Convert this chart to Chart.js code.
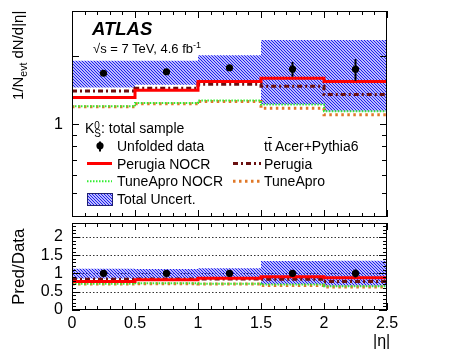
<!DOCTYPE html>
<html><head><meta charset="utf-8">
<script src="https://cdn.jsdelivr.net/npm/chart.js@4/dist/chart.umd.min.js"></script>
<style>
html,body{margin:0;padding:0;background:#fff;overflow:hidden}
#wrap{position:relative;width:456px;height:354px;background:#fff}
canvas{position:absolute;left:0;top:0}
.t{position:absolute;font-family:'Liberation Sans',Arial,sans-serif;color:#000;white-space:nowrap;line-height:1}
.rot{transform-origin:left top;transform:rotate(-90deg)}
</style></head><body>
<div id="wrap">
<canvas id="c1" width="456" height="354"></canvas>
<canvas id="c2" width="456" height="354"></canvas>
<div class="t" style="left:92px;top:20px;font-size:18.5px;font-weight:bold;font-style:italic">ATLAS</div>
<div class="t" style="left:93px;top:40.5px;font-size:13px">√s = 7 TeV, 4.6 fb<sup style="font-size:9px;vertical-align:5px">-1</sup></div>
<div class="t" style="left:85px;top:121px;font-size:14px">K<span style="display:inline-block;vertical-align:-4px;font-size:10px;line-height:8px;text-align:left">0<br>S</span>: total sample</div>
<div class="t" style="left:117px;top:138.8px;font-size:14px">Unfolded data</div>
<div class="t" style="left:264px;top:138.8px;font-size:14px">t<span style="text-decoration:overline">t</span> Acer+Pythia6</div>
<div class="t" style="left:117px;top:156.8px;font-size:14px">Perugia NOCR</div>
<div class="t" style="left:264px;top:156.8px;font-size:14px">Perugia</div>
<div class="t" style="left:117px;top:174.4px;font-size:14px">TuneApro NOCR</div>
<div class="t" style="left:264px;top:174.4px;font-size:14px">TuneApro</div>
<div class="t" style="left:117px;top:191.8px;font-size:14px">Total Uncert.</div>
<div class="t" style="left:373px;top:333px;font-size:16px">|η|</div>
<div class="t rot" style="left:10px;top:100px;font-size:15px">1/N<sub style="font-size:10.5px">evt</sub> dN/d|η|</div>
<div class="t rot" style="left:10px;top:305px;font-size:17px">Pred/Data</div>
</div>
<script>
// ---- data ----
const binEdges = [0, 0.5, 1, 1.5, 2, 2.5];
const binCenters = [0.25, 0.75, 1.25, 1.75, 2.25];
const unfoldedData = [1.674, 1.70, 1.77, 1.747, 1.742];
const unfoldedErr = [0.03, 0.03, 0.04, 0.13, 0.19];
const totalUncUp = [1.90, 1.90, 2.01, 2.34, 2.34];
const totalUncLo = [1.45, 1.49, 1.52, 1.22, 1.14];
const perugiaNOCR = [1.31, 1.41, 1.54, 1.59, 1.54];
const perugia = [1.40, 1.44, 1.50, 1.47, 1.35];
const tuneAproNOCR = [1.20, 1.24, 1.27, 1.22, 1.14];
const tuneApro = [1.195, 1.23, 1.26, 1.175, 1.10];
// ratio panel (Pred/Data)
const ratioData = [1, 1, 1, 1, 1];
const ratioDataErr = [0.02, 0.02, 0.025, 0.075, 0.11];
const ratioUncUp = [1.13, 1.12, 1.14, 1.34, 1.35];
const ratioUncLo = [0.86, 0.87, 0.86, 0.70, 0.65];
const ratioPerugiaNOCR = [0.78, 0.83, 0.87, 0.91, 0.88];
const ratioPerugia = [0.84, 0.85, 0.85, 0.84, 0.78];
const ratioTuneAproNOCR = [0.72, 0.73, 0.72, 0.70, 0.65];
const ratioTuneApro = [0.71, 0.72, 0.71, 0.67, 0.63];
// axis ticks
const topYLabels = [1];
const topYMinor = [0.5, 0.6, 0.7, 0.8, 0.9];
const topYMajor = [1, 2];
const ratioYLabels = [0, 0.5, 1, 1.5, 2];
const ratioGridLines = [0.5, 1, 1.5, 2];
const xLabels = [0, 0.5, 1, 1.5, 2, 2.5];

// ---- styles ----
const FONT = "'Liberation Sans', Arial, sans-serif";
function hatch(){
  const c = document.createElement('canvas'); c.width = 3; c.height = 3;
  const g = c.getContext('2d');
  g.strokeStyle = '#1414f0'; g.lineWidth = 1.1;
  g.beginPath();
  g.moveTo(-1,-1); g.lineTo(4,4);
  g.moveTo(-1,2); g.lineTo(1,4);
  g.moveTo(2,-1); g.lineTo(4,1);
  g.stroke();
  return g.createPattern(c, 'repeat');
}
const hatchPat = hatch();
const S = {
  pnocr: {color:'#ff0000', width:3, dash:[]},
  per:   {color:'#6a1010', width:3, dash:[5,3,2,3]},
  tnocr: {color:'#33ee33', width:2, dash:[1.5,1.5]},
  tap:   {color:'#e07828', width:3, dash:[2.5,3.5]}
};
function steps(vals){ return binEdges.map((e,i)=>({x:e, y: vals[Math.min(i, vals.length-1)]})); }
function lineDs(vals, st, ord){
  return {data: steps(vals), stepped: 'before', borderColor: st.color, borderWidth: st.width,
    borderDash: st.dash, pointRadius: 0, fill: false, order: ord, borderCapStyle:'butt'};
}
function buildDatasets(d, up, lo, a, b, c, e){
  return [
    {data: binCenters.map((x,i)=>({x, y:d[i]})), showLine:false, pointRadius:3.6,
      pointBackgroundColor:'#000', pointBorderColor:'#000', pointBorderWidth:0, order:0},
    lineDs(a, S.pnocr, 1), lineDs(b, S.per, 2), lineDs(c, S.tnocr, 3), lineDs(e, S.tap, 4),
    {data: steps(up), stepped:'before', borderColor:'rgba(0,0,0,0)', borderWidth:1, pointRadius:0,
      backgroundColor: hatchPat, fill: '+1', order: 10},
    {data: steps(lo), stepped:'before', borderColor:'rgba(0,0,0,0)', borderWidth:1, pointRadius:0,
      fill:false, order: 11}
  ];
}
function noPad(s){ s.paddingTop = 0; s.paddingBottom = 0; s.paddingLeft = 0; s.paddingRight = 0; }

function framePlugin(cfg){
  return {
    id: 'frame',
    beforeDatasetsDraw(chart){
      if(!cfg.grid) return;
      const {ctx, chartArea:ca, scales} = chart;
      ctx.save(); ctx.strokeStyle = '#333'; ctx.lineWidth = 1; ctx.setLineDash([1.5,2]);
      cfg.grid.forEach(v=>{
        const y = Math.round(scales.y.getPixelForValue(v)) + 0.5;
        ctx.beginPath(); ctx.moveTo(ca.left, y); ctx.lineTo(ca.right, y); ctx.stroke();
      });
      ctx.restore();
    },
    afterDatasetsDraw(chart){
      const {ctx, chartArea:ca, scales} = chart;
      const xs = scales.x, ys = scales.y;
      ctx.save();
      ctx.strokeStyle = '#000'; ctx.lineWidth = 2;
      cfg.vals.forEach((v,i)=>{
        const x = xs.getPixelForValue(binCenters[i]);
        ctx.beginPath();
        ctx.moveTo(x, ys.getPixelForValue(v + cfg.err[i]));
        ctx.lineTo(x, ys.getPixelForValue(v - cfg.err[i]));
        ctx.stroke();
      });
      ctx.lineWidth = 1; ctx.strokeStyle = '#000';
      ctx.strokeRect(ca.left + 0.5, ca.top + 0.5, ca.right - ca.left - 1, ca.bottom - ca.top - 1);
      ctx.beginPath();
      for(let i=0;i<=25;i++){
        const x = Math.round(xs.getPixelForValue(i/10)) + 0.5;
        const L = (i % 5 === 0) ? cfg.xMaj : cfg.xMin;
        ctx.moveTo(x, ca.top); ctx.lineTo(x, ca.top + L);
        ctx.moveTo(x, ca.bottom); ctx.lineTo(x, ca.bottom - L);
      }
      cfg.yTicks.forEach(t=>{
        const y = Math.round(ys.getPixelForValue(t.v)) + 0.5;
        ctx.moveTo(ca.left, y); ctx.lineTo(ca.left + t.l, y);
        ctx.moveTo(ca.right, y); ctx.lineTo(ca.right - t.l, y);
      });
      ctx.stroke();
      ctx.restore();
    }
  };
}

function drawLegend(chart){
  const ctx = chart.ctx;
  ctx.save();
  ctx.fillStyle = '#000'; ctx.strokeStyle = '#000'; ctx.lineWidth = 2;
  ctx.beginPath(); ctx.moveTo(100, 141.5); ctx.lineTo(100, 151.5); ctx.stroke();
  ctx.beginPath(); ctx.arc(100, 145.8, 3.6, 0, Math.PI*2); ctx.fill();
  const seg = (x1, x2, y, st) => {
    ctx.strokeStyle = st.color; ctx.lineWidth = st.width; ctx.setLineDash(st.dash);
    ctx.beginPath(); ctx.moveTo(x1, y); ctx.lineTo(x2, y); ctx.stroke();
  };
  seg(87, 112, 163.5, S.pnocr);
  seg(233, 261, 163.5, S.per);
  seg(87, 112, 181.2, S.tnocr);
  seg(233, 261, 181.2, S.tap);
  ctx.setLineDash([]);
  ctx.fillStyle = hatchPat; ctx.fillRect(87, 193.5, 25, 12);
  ctx.strokeStyle = '#202070'; ctx.lineWidth = 1; ctx.strokeRect(87.5, 193.5, 25, 12);
  ctx.restore();
}

const common = {
  responsive: false, animation: false, events: [],
  plugins: {legend:{display:false}, tooltip:{enabled:false}}
};

// ---- top panel ----
new Chart(document.getElementById('c1'), {
  type: 'line',
  data: {datasets: buildDatasets(unfoldedData, totalUncUp, totalUncLo, perugiaNOCR, perugia, tuneAproNOCR, tuneApro)},
  options: Object.assign({}, common, {
    layout: {padding: {top: 11, right: 69, bottom: 137, left: 0}},
    scales: {
      x: {type:'linear', min:0, max:2.5, display:false},
      y: {type:'logarithmic', min:0.392, max:3.14,
        grid:{display:false, drawTicks:false}, border:{display:false},
        afterBuildTicks: s => { s.ticks = topYLabels.map(v=>({value:v})); },
        afterFit: s => { s.width = 72; noPad(s); },
        ticks: {padding: 9, color:'#000', font:{family:FONT, size:16}, callback: v => String(v)}
      }
    }
  }),
  plugins: [framePlugin({vals: unfoldedData, err: unfoldedErr, xMaj: 7, xMin: 4,
    yTicks: topYMajor.map(v=>({v, l:7})).concat(topYMinor.map(v=>({v, l:5})))}),
    {id:'leg', afterDraw: drawLegend}]
});

// ---- ratio panel ----
const ratioYTicks = [];
for(let i=0;i<=23;i++){ ratioYTicks.push({v: i/10, l: (i % 5 === 0) ? 8 : 4}); }
new Chart(document.getElementById('c2'), {
  type: 'line',
  data: {datasets: buildDatasets(ratioData, ratioUncUp, ratioUncLo, ratioPerugiaNOCR, ratioPerugia, ratioTuneAproNOCR, ratioTuneApro)},
  options: Object.assign({}, common, {
    layout: {padding: {top: 223, right: 69, bottom: 0, left: 0}},
    scales: {
      x: {type:'linear', min:0, max:2.5,
        grid:{display:false, drawTicks:false}, border:{display:false},
        afterBuildTicks: s => { s.ticks = xLabels.map(v=>({value:v})); },
        afterFit: s => { s.height = 44; noPad(s); },
        ticks: {padding: 4, autoSkip:false, maxRotation:0, color:'#000', font:{family:FONT, size:16}, callback: v => String(v)}
      },
      y: {type:'linear', min:0, max:2.38,
        grid:{display:false, drawTicks:false}, border:{display:false},
        afterBuildTicks: s => { s.ticks = ratioYLabels.map(v=>({value:v})); },
        afterFit: s => { s.width = 72; noPad(s); },
        ticks: {padding: 9, autoSkip:false, color:'#000', font:{family:FONT, size:16}, callback: v => String(v)}
      }
    }
  }),
  plugins: [framePlugin({vals: ratioData, err: ratioDataErr, xMaj: 7, xMin: 4, yTicks: ratioYTicks, grid: ratioGridLines})]
});
</script>
</body></html>
